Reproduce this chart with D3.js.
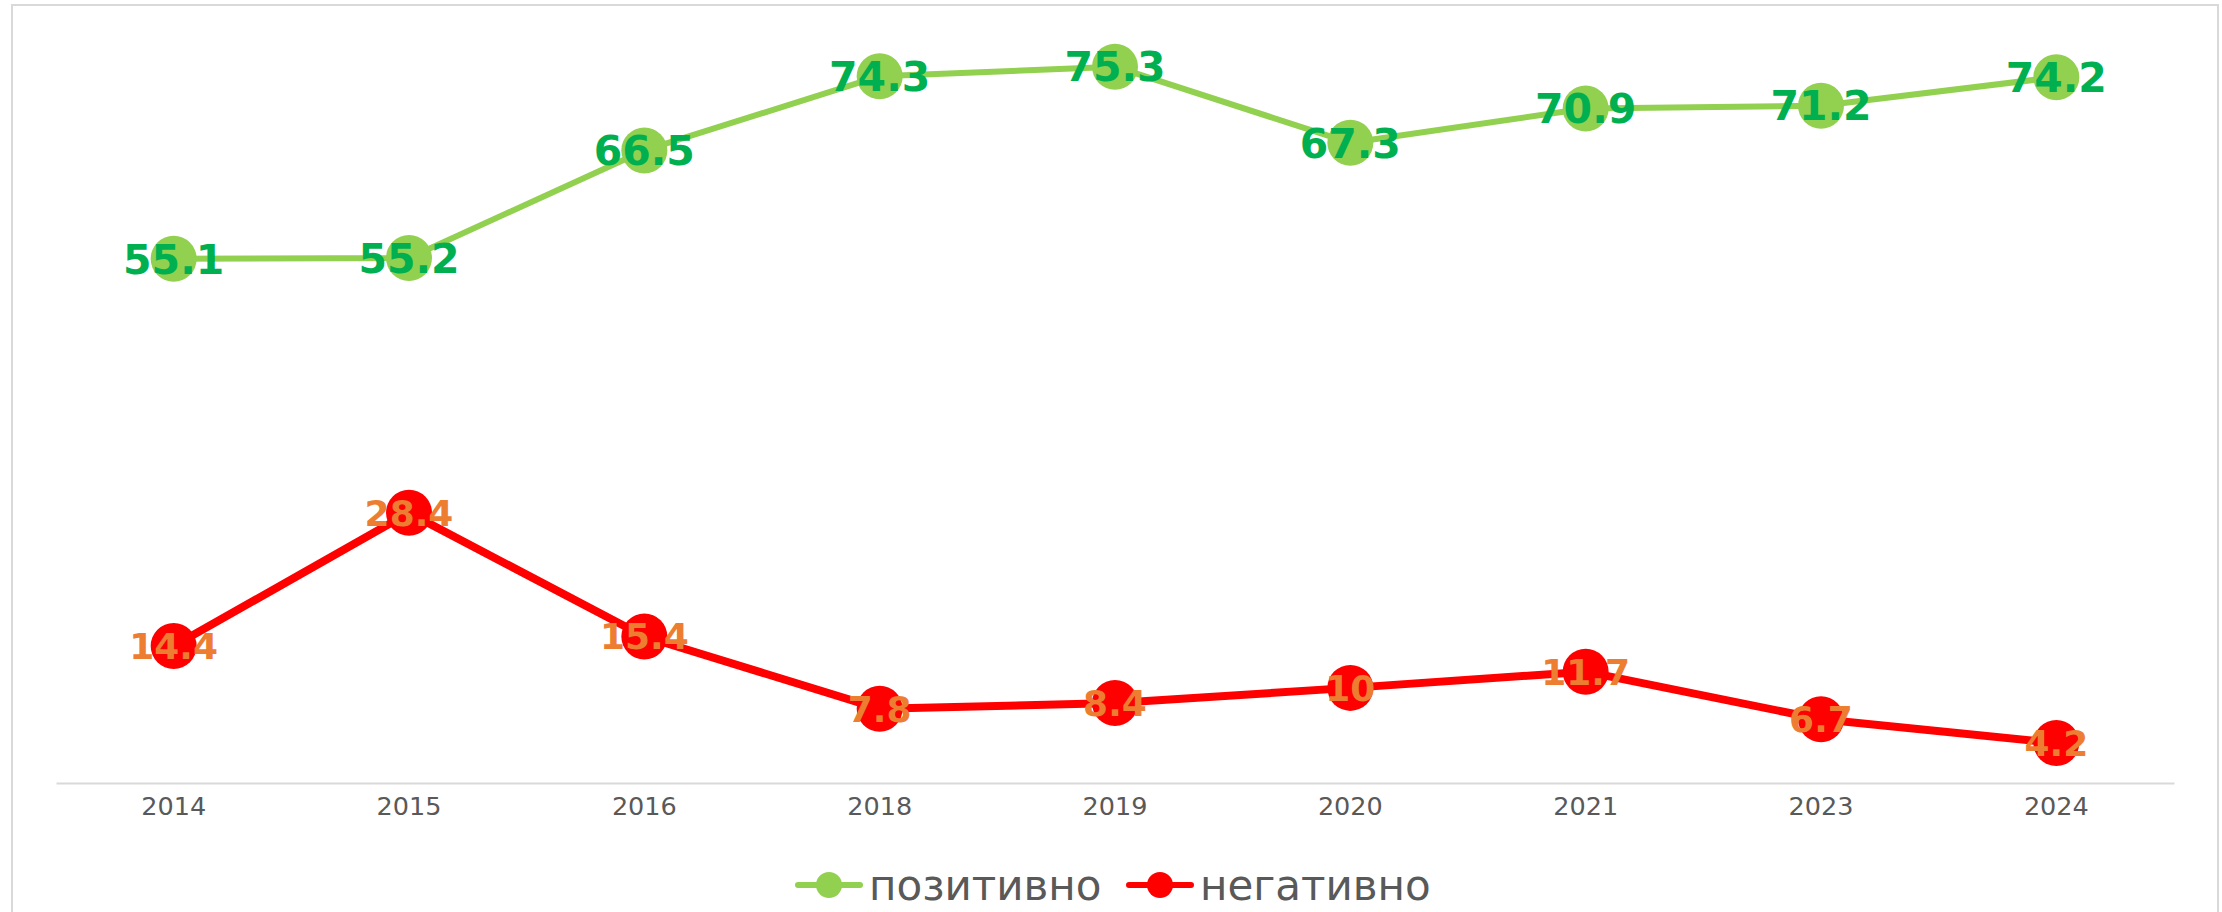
<!DOCTYPE html>
<html>
<head>
<meta charset="utf-8">
<script src="https://cdn.jsdelivr.net/npm/d3@7"></script>
<style>
  body { margin: 0; background: #fff; }
  svg { display: block; font-family: "DejaVu Sans", sans-serif; }
</style>
</head>
<body>
<div class="graph"></div>
<script>
// data
const years = ["2014", "2015", "2016", "2018", "2019", "2020", "2021", "2023", "2024"];
const positive = [55.1, 55.2, 66.5, 74.3, 75.3, 67.3, 70.9, 71.2, 74.2];
const negative = [14.4, 28.4, 15.4, 7.8, 8.4, 10, 11.7, 6.7, 4.2];
const seriesNames = ["позитивно", "негативно"];

const SIZE = {X: 2222, Y: 912};
const MARGIN = {TOP: 22, LEFT: 56, RIGHT: 48, BOTTOM: 129};

const svg = d3.select(".graph").append("svg")
    .attr("width", SIZE.X)
    .attr("height", SIZE.Y);

// chart frame
svg.append("rect")
    .attr("x", 12).attr("y", 5)
    .attr("width", 2206).attr("height", 920)
    .attr("fill", "none")
    .attr("stroke", "#d9d9d9")
    .attr("stroke-width", 2);

// scales
const x = d3.scaleBand()
    .domain(years)
    .range([MARGIN.LEFT, SIZE.X - MARGIN.RIGHT]);

const y = d3.scaleLinear()
    .domain([0, 80])
    .range([SIZE.Y - MARGIN.BOTTOM, MARGIN.TOP]);

// x axis
const xAxis = svg.append("g")
    .attr("transform", `translate(0, ${y(0)})`)
    .call(d3.axisBottom(x).tickSize(0).tickPadding(14));
xAxis.select(".domain").attr("stroke", "#d9d9d9").attr("stroke-width", 2);
xAxis.selectAll("text")
    .attr("fill", "#595959")
    .attr("font-size", 25.5)
    .attr("font-family", "DejaVu Sans");

const series = [
    {name: seriesNames[0], values: positive, line: "#92d050", label: "#00b050", width: 6, font: 41},
    {name: seriesNames[1], values: negative, line: "#ff0000", label: "#ed7d31", width: 8, font: 36}
];

const lineGen = d3.line()
    .x((d, i) => x(years[i]) + x.bandwidth() / 2)
    .y(d => y(d));

series.forEach(s => {
    const g = svg.append("g");
    g.append("path")
        .datum(s.values)
        .attr("d", lineGen)
        .attr("fill", "none")
        .attr("stroke", s.line)
        .attr("stroke-width", s.width)
        .attr("stroke-linejoin", "round");

    g.selectAll("circle")
        .data(s.values)
        .enter()
        .append("circle")
            .attr("cx", (d, i) => x(years[i]) + x.bandwidth() / 2)
            .attr("cy", d => y(d))
            .attr("r", 23)
            .attr("fill", s.line);

    g.selectAll("text")
        .data(s.values)
        .enter()
        .append("text")
            .attr("x", (d, i) => x(years[i]) + x.bandwidth() / 2)
            .attr("y", d => y(d))
            .attr("dy", "0.36em")
            .attr("text-anchor", "middle")
            .attr("font-weight", "bold")
            .attr("font-size", s.font)
            .attr("fill", s.label)
            .text(d => d);
});

// legend
const legendPos = [798, 1129];
const legend = svg.append("g").attr("transform", "translate(0, 885)");
series.forEach((s, i) => {
    const lg = legend.append("g").attr("transform", `translate(${legendPos[i]}, 0)`);
    lg.append("line")
        .attr("x1", 0).attr("x2", 62)
        .attr("stroke", s.line)
        .attr("stroke-width", 6)
        .attr("stroke-linecap", "round");
    lg.append("circle")
        .attr("cx", 31).attr("r", 13)
        .attr("fill", s.line);
    lg.append("text")
        .attr("x", 71)
        .attr("dy", "0.36em")
        .attr("font-size", 42)
        .attr("fill", "#595959")
        .text(s.name);
});
</script>
</body>
</html>
